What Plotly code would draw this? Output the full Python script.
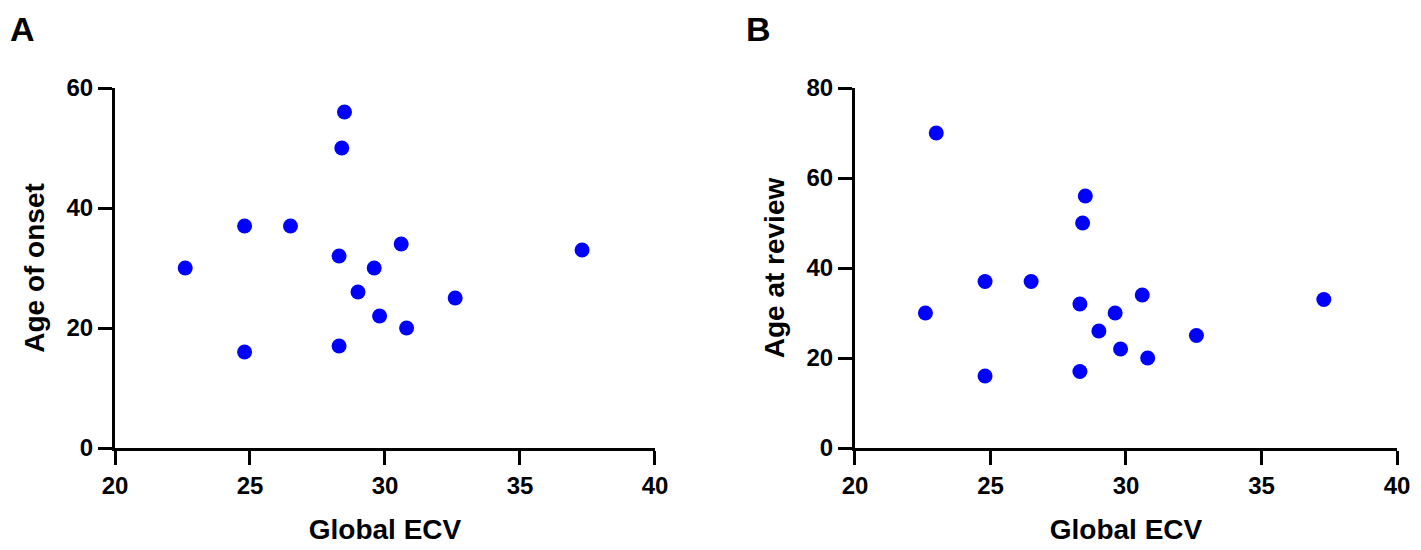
import plotly.graph_objects as go

# Global ECV vs age (panel A: age of onset, panel B: age at review)
ecv_a = [22.6, 24.8, 24.8, 26.5, 28.3, 28.3, 28.4, 28.5, 29.0, 29.6, 29.8, 30.6, 30.8, 32.6, 37.3]
onset = [30, 37, 16, 37, 32, 17, 50, 56, 26, 30, 22, 34, 20, 25, 33]

ecv_b = [22.6, 23.0, 24.8, 24.8, 26.5, 28.3, 28.3, 28.4, 28.5, 29.0, 29.6, 29.8, 30.6, 30.8, 32.6, 37.3]
review = [30, 70, 37, 16, 37, 32, 17, 50, 56, 26, 30, 22, 34, 20, 25, 33]

x_ticks = [20, 25, 30, 35, 40]
ya_ticks = [0, 20, 40, 60]
yb_ticks = [0, 20, 40, 60, 80]

marker = dict(color="#0000ff", size=15, line=dict(width=0))
title_font = dict(family="Arial", size=28, color="black", weight="bold")
label_font = dict(family="Arial", size=34, color="black", weight="bold")

fig = go.Figure()
fig.add_trace(go.Scatter(x=ecv_a, y=onset, mode="markers", marker=marker,
                         xaxis="x", yaxis="y", cliponaxis=False))
fig.add_trace(go.Scatter(x=ecv_b, y=review, mode="markers", marker=marker,
                         xaxis="x2", yaxis="y2", cliponaxis=False))

axis_style = dict(
    showline=True, linecolor="black", linewidth=3,
    ticks="outside", ticklen=14, tickwidth=3, tickcolor="black",
    showgrid=False, zeroline=False, automargin=False,
    tickfont=dict(family="Arial", size=24, color="black", weight="bold"),
)

fig.update_layout(
    width=1421, height=550,
    margin=dict(l=107, r=32, t=80, b=110),
    paper_bgcolor="white", plot_bgcolor="white",
    showlegend=False,
    xaxis=dict(domain=[0, 0.4212], range=[20, 40], tickvals=x_ticks, anchor="y",
               title=dict(text="Global ECV", standoff=22, font=title_font), **axis_style),
    yaxis=dict(domain=[0, 1], range=[0, 60], tickvals=ya_ticks, anchor="x",
               title=dict(text="Age of onset", standoff=14, font=title_font), **axis_style),
    xaxis2=dict(domain=[0.5772, 1.0], range=[20, 40], tickvals=x_ticks, anchor="y2",
                title=dict(text="Global ECV", standoff=22, font=title_font), **axis_style),
    yaxis2=dict(domain=[0, 1], range=[0, 80], tickvals=yb_ticks, anchor="x2",
                title=dict(text="Age at review", standoff=14, font=title_font), **axis_style),
    annotations=[
        dict(text="A", x=-0.0835, y=1.222, xref="paper", yref="paper", xanchor="left", yanchor="top",
             showarrow=False, font=label_font),
        dict(text="B", x=0.4906, y=1.222, xref="paper", yref="paper", xanchor="left", yanchor="top",
             showarrow=False, font=label_font),
    ],
)

fig.write_html("out.html")
